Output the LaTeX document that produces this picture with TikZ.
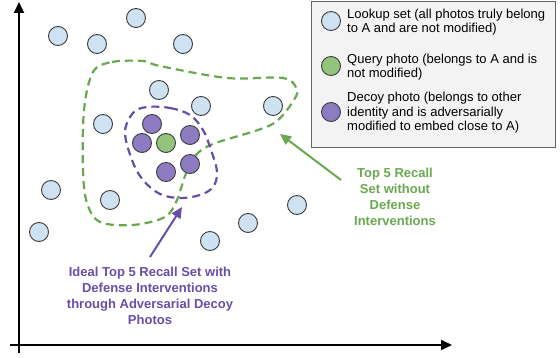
\documentclass[tikz,border=0pt]{standalone}
\usepackage{fontspec}
\setmainfont{Liberation Sans}
\usetikzlibrary{arrows.meta}
\definecolor{lblue}{HTML}{CFE2F3}
\definecolor{lgreen}{HTML}{93C47D}
\definecolor{lpurple}{HTML}{8E7CC3}
\definecolor{dgreen}{HTML}{6AA84F}
\definecolor{dpurple}{HTML}{674EA7}
\definecolor{edge}{HTML}{3C3C3C}
\definecolor{legfill}{HTML}{F3F3F3}
\begin{document}
\begin{tikzpicture}[x=1pt,y=-1pt,
  dot/.style={circle,draw=edge,line width=0.9pt,minimum size=19pt,inner sep=0pt},
  look/.style={dot,fill=lblue},
  query/.style={dot,fill=lgreen},
  decoy/.style={dot,fill=lpurple},
  axis/.style={line width=2pt,-{Triangle[length=11pt,width=10pt]}},
  region/.style={line width=2.2pt,dash pattern=on 8pt off 5pt},
  legtext/.style={anchor=west,align=left,font=\fontsize{13}{14.5}\selectfont,inner sep=0pt},
  lbl/.style={align=center,font=\fontsize{13}{16}\selectfont\bfseries,inner sep=0pt}
]
\useasboundingbox (0,0) rectangle (560,358);
% axes
\coordinate (ob) at (19,353);
\coordinate (ot) at (19,2);
\coordinate (ol) at (10,345);
\coordinate (or) at (452,345);
\draw[axis] (ob) -- (ot);
\draw[axis] (ol) -- (or);
% regions
\draw[dgreen,region]
  plot[smooth cycle,tension=0.55] coordinates {(93,72) (112,62) (143,61) (160,66) (227,78) (283,78) (297,90) (292,103) (277,121) (258,130) (213,144) (195,156) (185,176) (177,200) (165,217) (133,225) (100,222) (87,203) (83,170) (84,110)};
\draw[dpurple,region]
  plot[smooth cycle,tension=0.6] coordinates {(147,107) (170,108) (190,115) (203,130) (211,150) (217,172) (213,187) (200,195) (180,198) (160,194) (143,180) (132,160) (125,132) (133,113)};
% lookup photos
\node[look] (l1) at (58,36) {};
\node[look] (l2) at (136,18) {};
\node[look] (l3) at (97,44) {};
\node[look] (l4) at (183,44) {};
\node[look] (l5) at (159,90) {};
\node[look] (l6) at (201,106) {};
\node[look] (l7) at (273,106) {};
\node[look] (l8) at (103,124) {};
\node[look] (l9) at (51,190) {};
\node[look] (l10) at (110,200) {};
\node[look] (l11) at (39,232) {};
\node[look] (l12) at (210,241) {};
\node[look] (l13) at (248,223) {};
\node[look] (l14) at (297,205) {};
% query and decoys
\node[query] (q) at (166,143) {};
\node[decoy] (d1) at (152,124) {};
\node[decoy] (d2) at (142,143) {};
\node[decoy] (d3) at (190,135) {};
\node[decoy] (d4) at (190,164) {};
\node[decoy] (d5) at (166,172) {};
% legend
\node[draw=edge!80,fill=legfill,line width=1pt,minimum width=244pt,minimum height=146pt,anchor=north west,inner sep=0pt] (leg) at (311,1) {};
\node[look] (k1) at (331,21) {};
\node[query] (k2) at (331,66) {};
\node[decoy] (k3) at (331,112) {};
\node[legtext] (t1) at (347,22) {Lookup set (all photos truly belong\\to A and are not modified)};
\node[legtext] (t2) at (347,67) {Query photo (belongs to A and is\\not modified)};
\node[legtext] (t3) at (347,113) {Decoy photo (belongs to other\\identity and is adversarially\\modified to embed close to A)};
% labels
\node[lbl,text=dgreen] (g) at (395,197) {Top 5 Recall\\Set without\\Defense\\Interventions};
\node[lbl,text=dpurple] (p) at (150,296) {Ideal Top 5 Recall Set with\\Defense Interventions\\through Adversarial Decoy\\Photos};
\coordinate (gt) at (341,180);
\coordinate (gh) at (280,134);
\coordinate (pt) at (150,257);
\coordinate (ph) at (182,207);
\draw[dgreen,line width=2pt,-{Triangle[length=11pt,width=10pt]}] (gt) -- (gh);
\draw[dpurple,line width=2pt,-{Triangle[length=11pt,width=10pt]}] (pt) -- (ph);
\end{tikzpicture}
\end{document}
